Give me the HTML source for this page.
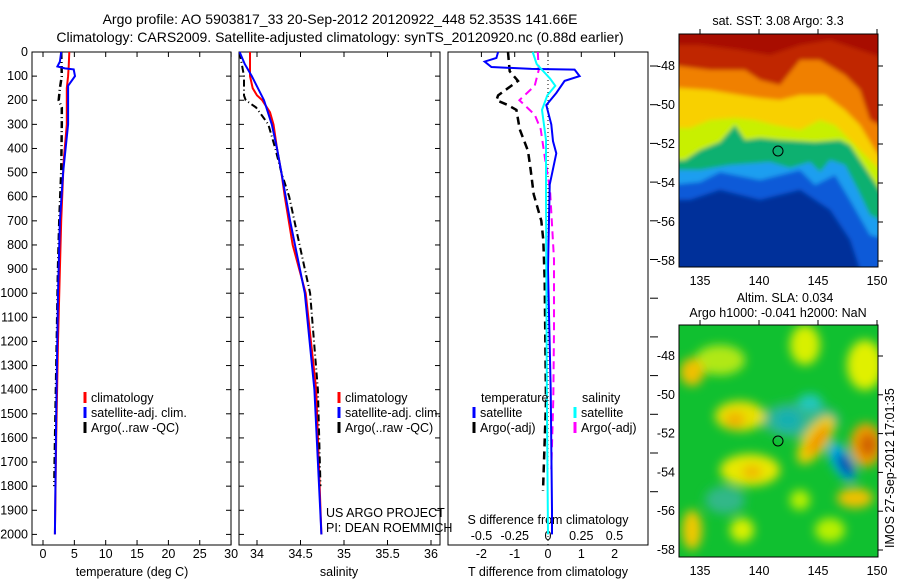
<!DOCTYPE html>
<html><head><meta charset="utf-8"><style>
html,body{margin:0;padding:0;background:#fff;}
svg{display:block;font-family:"Liberation Sans",sans-serif;}
text{font-size:12.5px;fill:#000;}
</style></head><body>
<svg id="fig" width="900" height="580" viewBox="0 0 900 580">
<defs>
<filter id="blur3" x="-20%" y="-20%" width="140%" height="140%"><feGaussianBlur stdDeviation="5"/></filter>
<filter id="blur2" x="-20%" y="-20%" width="140%" height="140%"><feGaussianBlur stdDeviation="2"/></filter>
<clipPath id="clipTop"><rect x="679" y="34" width="199" height="233"/></clipPath>
<clipPath id="clipBot"><rect x="679" y="325" width="199" height="232"/></clipPath>
</defs>
<text x="340" y="24" text-anchor="middle" style="font-size:14px">Argo profile: AO 5903817_33 20-Sep-2012 20120922_448 52.353S 141.66E</text>
<text x="340" y="42" text-anchor="middle" style="font-size:14px">Climatology: CARS2009. Satellite-adjusted climatology: synTS_20120920.nc (0.88d earlier)</text>

<!-- SST map -->
<g clip-path="url(#clipTop)">
<rect x="679" y="34" width="199" height="233" fill="#00309a"/>
<g filter="url(#blur2)">
<polygon points="670,30 890,30 890,270 860,270 850,240 830,210 800,190 760,200 720,190 690,200 670,200" fill="#0a5ad8"/>
<polygon points="670,30 890,30 890,240 870,235 850,200 835,175 815,185 800,170 780,175 760,180 720,172 700,182 670,185" fill="#1a9ef0"/>
<polygon points="670,30 890,30 890,225 870,215 858,190 845,165 830,160 820,172 810,162 790,168 770,162 730,165 700,170 670,170" fill="#10b070"/>
<polygon points="670,30 890,30 890,200 880,190 870,175 860,160 850,145 840,140 815,142 780,140 760,138 745,140 735,125 720,142 700,150 685,160 670,160" fill="#c8f000"/>
<polygon points="670,30 890,30 890,180 870,160 850,140 835,125 820,120 800,130 775,125 755,120 735,118 710,120 690,128 670,128" fill="#f8d000"/>
<polygon points="670,30 890,30 890,170 875,150 860,125 845,110 825,95 800,95 780,100 760,98 740,95 710,90 680,88 670,88" fill="#f08000"/>
<polygon points="670,30 890,30 890,130 870,120 860,90 845,75 820,60 800,60 780,85 760,80 745,70 710,70 670,65" fill="#c02800"/>
<polygon points="670,30 890,30 890,60 860,50 830,40 800,45 770,55 740,50 700,45 670,45" fill="#a81000"/>
</g>
</g>
<rect x="679" y="34" width="199" height="233" fill="none" stroke="#000"/>
<circle cx="778" cy="151" r="5" fill="none" stroke="#000"/>
<text x="778" y="25" text-anchor="middle">sat. SST: 3.08 Argo: 3.3</text>

<!-- SLA map -->
<g clip-path="url(#clipBot)">
<rect x="679" y="325" width="199" height="232" fill="#10c030"/>
<g filter="url(#blur3)">
<ellipse cx="720" cy="360" rx="25" ry="15" fill="#b0e818"/>
<ellipse cx="805" cy="345" rx="15" ry="20" fill="#d8f000"/>
<ellipse cx="865" cy="365" rx="18" ry="25" fill="#e0f000"/>
<ellipse cx="692" cy="372" rx="12" ry="14" fill="#f0c000"/>
<ellipse cx="800" cy="420" rx="40" ry="18" fill="#30b888"/>
<ellipse cx="810" cy="402" rx="12" ry="8" fill="#20c8c0"/>
<ellipse cx="740" cy="416" rx="25" ry="15" fill="#e8e000"/>
<ellipse cx="735" cy="420" rx="10" ry="8" fill="#f0b000"/>
<ellipse cx="788" cy="420" rx="14" ry="11" fill="#18b0b0"/>
<ellipse cx="816" cy="440" rx="12" ry="28" fill="#f0d000" transform="rotate(35 816 440)"/>
<ellipse cx="818" cy="440" rx="6" ry="18" fill="#f09000" transform="rotate(35 818 440)"/>
<ellipse cx="842" cy="462" rx="10" ry="22" fill="#00b0e8" transform="rotate(-30 842 462)"/>
<ellipse cx="845" cy="465" rx="5" ry="14" fill="#0020a0" transform="rotate(-30 845 465)"/>
<ellipse cx="866" cy="445" rx="16" ry="22" fill="#f0a000"/>
<ellipse cx="868" cy="445" rx="9" ry="12" fill="#d06000"/>
<ellipse cx="855" cy="498" rx="18" ry="10" fill="#f0c000"/>
<ellipse cx="750" cy="470" rx="30" ry="16" fill="#e8e800"/>
<ellipse cx="752" cy="472" rx="10" ry="7" fill="#f0b800"/>
<ellipse cx="692" cy="530" rx="10" ry="20" fill="#f0c800"/>
<ellipse cx="742" cy="530" rx="12" ry="12" fill="#d8f000"/>
<ellipse cx="725" cy="500" rx="20" ry="14" fill="#30b888"/>
<ellipse cx="830" cy="530" rx="15" ry="12" fill="#b8f000"/>
<ellipse cx="800" cy="500" rx="10" ry="10" fill="#b8f000"/>
</g>
</g>
<rect x="679" y="325" width="199" height="232" fill="none" stroke="#000"/>
<circle cx="778" cy="441" r="5" fill="none" stroke="#000"/>
<text x="785" y="302" text-anchor="middle">Altim. SLA: 0.034</text>
<text x="778" y="317" text-anchor="middle">Argo h1000: -0.041 h2000: NaN</text>
<text transform="translate(894 548) rotate(-90)">IMOS 27-Sep-2012 17:01:35</text>

<g id="plots"></g>
</svg>
<script>
// ---- data ----
const tempClimDepth = [0,60,100,150,300,450,700,900,1200,1600,2000];
const tempClimVals  = [4.2,4.1,4.0,3.8,3.8,3.3,2.9,2.7,2.4,2.1,1.9];
const tempSatDepth  = [0,40,60,68,72,100,140,300,500,700,1000,1500,2000];
const tempSatVals   = [2.9,2.7,2.3,3.5,4.9,5.1,4.0,4.0,3.2,2.7,2.4,2.1,1.9];
const tempArgoDepth = [0,100,150,200,230,300,500,700,900,1200,1500,1800];
const tempArgoVals  = [2.9,3.0,2.7,2.5,3.0,3.0,2.9,2.6,2.4,2.2,2.0,1.8];

const salClimDepth = [0,100,150,180,200,250,300,400,500,600,800,1000,1400,2000];
const salClimVals  = [33.92,33.92,33.95,34.0,34.06,34.15,34.19,34.23,34.28,34.32,34.41,34.56,34.68,34.74];
const salSatDepth  = [0,50,100,150,200,300,400,500,700,1000,1400,2000];
const salSatVals   = [33.8,33.86,33.94,34.01,34.08,34.17,34.23,34.28,34.38,34.55,34.66,34.74];
const salArgoDepth = [0,100,180,200,230,270,300,400,500,600,800,1000,1400,1800];
const salArgoVals  = [33.8,33.85,33.85,33.87,33.99,34.07,34.13,34.21,34.28,34.37,34.49,34.61,34.70,34.73];

const dTSatDepth  = [0,25,40,62,70,73,100,120,170,220,300,370,420,550,900,1400,1900,2000];
const dTSatVals   = [-1.5,-1.55,-1.9,-1.7,-0.5,0.8,0.95,0.5,0.25,-0.05,0.1,0.15,0.25,0.05,0.0,0.08,0.12,0.12];
const dTArgoDepth = [0,80,120,180,200,220,240,320,410,490,590,700,780,950,1450,1820];
const dTArgoVals  = [-1.2,-1.15,-0.9,-1.5,-1.55,-1.2,-0.95,-0.85,-0.6,-0.52,-0.43,-0.2,-0.14,-0.1,-0.06,-0.15];
const dSSatDepth  = [0,50,110,140,180,240,365,600,1450,2000];
const dSSatVals   = [-0.115,-0.085,0.015,0.055,-0.005,-0.045,-0.015,-0.015,-0.008,0.0];
const dSArgoDepth = [0,75,140,200,260,320,450,570,860,1150,1440,1730];
const dSArgoVals  = [-0.077,-0.07,-0.1,-0.215,-0.1,-0.055,-0.02,0.015,0.045,0.045,0.04,0.025];

const depthTicks = [0,100,200,300,400,500,600,700,800,900,1000,1100,1200,1300,1400,1500,1600,1700,1800,1900,2000];
const tempTicks = [0,5,10,15,20,25,30];
const salTicks = [34,34.5,35,35.5,36];
const dTTicks = [-2,-1,0,1,2];
const dSTicks = [-0.5,-0.25,0,0.25,0.5];
const dSTickLabels = ['-0.5','-0.25','0','0.25','0.5'];

// ---- axes ----
const NS='http://www.w3.org/2000/svg';
const g=document.getElementById('plots');
const yD = d => 52 + d*0.2412;
const xT = v => 43 + v*6.27;
const xS = v => 257 + (v-34)*87;
const xDT = v => 548 + v*33.3;
const xDS = v => 548 + v*133;
const TOP=52, BOT=545;
function el(tag,attrs,parent){const e=document.createElementNS(NS,tag);for(const k in attrs)e.setAttribute(k,attrs[k]);(parent||g).appendChild(e);return e;}
function txt(x,y,s,anchor){const t=el('text',{x:x,y:y,'text-anchor':anchor||'middle'});t.textContent=s;return t;}
function line(depths,vals,xf,color,dash,w,name){
  const pts=depths.map((d,i)=>xf(vals[i]).toFixed(1)+','+yD(d).toFixed(1)).join(' ');
  const p=el('polyline',{points:pts,fill:'none',stroke:color,'stroke-width':w||2});
  if(dash)p.setAttribute('stroke-dasharray',dash);
  
  
}
function panel(x0,x1,name){
  const r=el('rect',{x:x0,y:TOP,width:x1-x0,height:BOT-TOP,fill:'#fff',stroke:'#000'});
  
  
}
panel(32,231,'temperature-panel');
panel(239,440,'salinity-panel');
panel(448,648,'difference-panel');

depthTicks.forEach(d=>{
  const y=yD(d);
  el('line',{x1:32,x2:37,y1:y,y2:y,stroke:'#000'});
  el('line',{x1:226,x2:231,y1:y,y2:y,stroke:'#000'});
  el('line',{x1:239,x2:244,y1:y,y2:y,stroke:'#000'});
  el('line',{x1:435,x2:440,y1:y,y2:y,stroke:'#000'});
  const t=txt(28,y+4,String(d),'end');
  
  
});
for(let y=66;y<=515;y+=38.7){el('line',{x1:650,x2:658,y1:y,y2:y,stroke:'#000'});}

tempTicks.forEach(v=>{const x=xT(v);el('line',{x1:x,x2:x,y1:TOP,y2:TOP+5,stroke:'#000'});el('line',{x1:x,x2:x,y1:BOT,y2:BOT-5,stroke:'#000'});
  const t=txt(x,558,String(v));});
salTicks.forEach(v=>{const x=xS(v);el('line',{x1:x,x2:x,y1:TOP,y2:TOP+5,stroke:'#000'});el('line',{x1:x,x2:x,y1:BOT,y2:BOT-5,stroke:'#000'});
  const t=txt(x,558,String(v));});
dTTicks.forEach(v=>{const x=xDT(v);el('line',{x1:x,x2:x,y1:TOP,y2:TOP+5,stroke:'#000'});
  const t=txt(x,558,String(v));});
dSTicks.forEach((v,i)=>{const t=txt(xDS(v),540,dSTickLabels[i]);});
const z=el('line',{x1:548,x2:548,y1:TOP,y2:BOT,stroke:'#000','stroke-dasharray':'1,3'});



let t;
t=txt(132,576,'temperature (deg C)');
t=txt(339,576,'salinity');
t=txt(548,576,'T difference from climatology');
t=txt(548,524,'S difference from climatology');
t=txt(326,517,'US ARGO PROJECT','start');
t=txt(326,532,'PI: DEAN ROEMMICH','start');

line(tempClimDepth,tempClimVals,xT,'#f00',null,2,'temp-climatology-line');
line(tempArgoDepth,tempArgoVals,xT,'#000','7,3,1,3',2.5,'temp-argo-line');
line(tempSatDepth,tempSatVals,xT,'#00f',null,2,'temp-satellite-line');
line(salClimDepth,salClimVals,xS,'#f00',null,2,'sal-climatology-line');
line(salArgoDepth,salArgoVals,xS,'#000','7,3,1,3',2,'sal-argo-line');
line(salSatDepth,salSatVals,xS,'#00f',null,2,'sal-satellite-line');
line(dTArgoDepth,dTArgoVals,xDT,'#000','8,5',2.5,'dT-argo-line');
line(dSArgoDepth,dSArgoVals,xDS,'#f0f','8,5',2,'dS-argo-line');
line(dTSatDepth,dTSatVals,xDT,'#00f',null,2,'dT-satellite-line');
line(dSSatDepth,dSSatVals,xDS,'#0ff',null,2,'dS-satellite-line');

function leg(x,y,color,label,name){
  el('line',{x1:x,x2:x,y1:y-10,y2:y+1,stroke:color,'stroke-width':3});
  const tt=txt(x+6,y,label,'start');
  
  
}
leg(85,402,'#f00','climatology','legend-temp-climatology');
leg(85,417,'#00f','satellite-adj. clim.','legend-temp-satellite');
leg(85,432,'#000','Argo(..raw -QC)','legend-temp-argo');
leg(339,402,'#f00','climatology','legend-sal-climatology');
leg(339,417,'#00f','satellite-adj. clim.','legend-sal-satellite');
leg(339,432,'#000','Argo(..raw -QC)','legend-sal-argo');
t=txt(481,402,'temperature','start');
t=txt(582,402,'salinity','start');
leg(474,417,'#00f','satellite','legend-dT-satellite');
leg(474,432,'#000','Argo(-adj)','legend-dT-argo');
leg(575,417,'#0ff','satellite','legend-dS-satellite');
leg(575,432,'#f0f','Argo(-adj)','legend-dS-argo');

const lonTicks=[135,140,145,150];
const latTicks=[-48,-50,-52,-54,-56,-58];
const xLon=v=>700+(v-135)*11.8;
const yLatTop=v=>66+(-48-v)*19.5;
const yLatBot=v=>356+(-48-v)*19.4;
lonTicks.forEach(v=>{const x=xLon(v);
  el('line',{x1:x,x2:x,y1:29,y2:34,stroke:'#000'});el('line',{x1:x,x2:x,y1:320,y2:325,stroke:'#000'});
  let a=txt(x,285,String(v));
  a=txt(x,575,String(v));});
latTicks.forEach(v=>{
  let y=yLatTop(v);el('line',{x1:878,x2:883,y1:y,y2:y,stroke:'#000'});
  let a=txt(675,y+4,String(v),'end');
  y=yLatBot(v);el('line',{x1:878,x2:883,y1:y,y2:y,stroke:'#000'});
  a=txt(675,y+4,String(v),'end');});
</script>
</body></html>
